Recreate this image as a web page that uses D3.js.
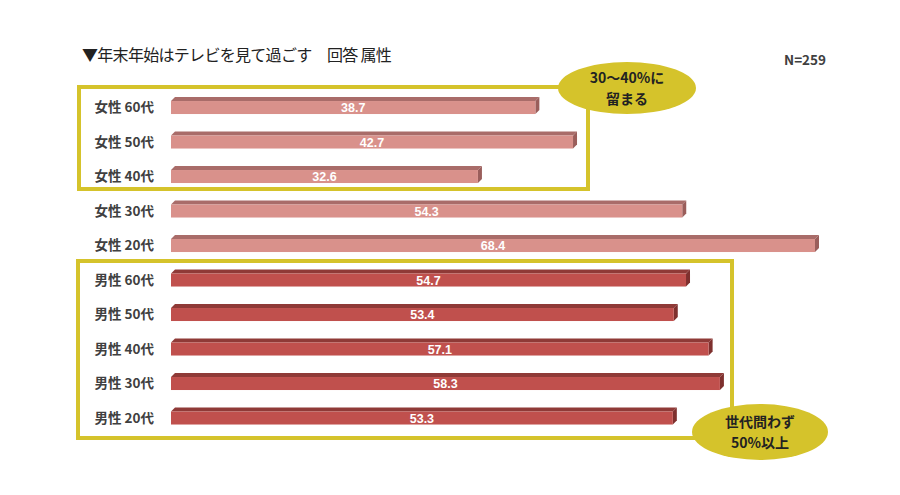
<!DOCTYPE html>
<html><head><meta charset="utf-8">
<script src="https://cdn.jsdelivr.net/npm/d3@7"></script>
<style>
html,body{margin:0;padding:0;background:#fff;}
svg{display:block;}
text{font-family:"Noto Sans CJK JP","Noto Sans",sans-serif;}
</style></head>
<body>
<script>
const categories = ["女性 60代","女性 50代","女性 40代","女性 30代","女性 20代","男性 60代","男性 50代","男性 40代","男性 30代","男性 20代"];
const groups = ["f","f","f","f","f","m","m","m","m","m"];
const values = [38.7,42.7,32.6,54.3,68.4,54.7,53.4,57.1,58.3,53.3];
const title = "▼年末年始はテレビを見て過ごす\u3000回答 属性";
const nLabel = "N=259";
const callout1 = ["30～40%に","留まる"];
const callout2 = ["世代問わず","50%以上"];

const W = 900, H = 495;
const svg = d3.select("body").append("svg").attr("width", W).attr("height", H);

const x = d3.scaleLinear().domain([0, 68.4]).range([171, 815]);
const y = d3.scaleBand().domain(categories).range([88.4, 433.4]).paddingInner(0.5).paddingOuter(0.25);
const colors = {
  f: {front:"#d9918b", top:"#a96c69", side:"#9a5e5b"},
  m: {front:"#c0504d", top:"#8f3a37", side:"#7e302e"}
};
const depth = 4, faceH = 13;
const yellow = "#d5c32b";

// title
svg.append("text").attr("x", 82).attr("y", 61).attr("font-size", 16).attr("fill", "#222")
  .attr("letter-spacing", "-0.7").text(title);
svg.append("text").attr("x", 826).attr("y", 65).attr("text-anchor","end").attr("font-size", 13.5)
  .attr("font-weight","bold").attr("fill","#404040").text(nLabel);

// boxes
svg.append("rect").attr("x", 79).attr("y", 87).attr("width", 509).attr("height", 102)
  .attr("fill","none").attr("stroke", yellow).attr("stroke-width", 4);
svg.append("rect").attr("x", 78).attr("y", 261).attr("width", 654).attr("height", 177)
  .attr("fill","none").attr("stroke", yellow).attr("stroke-width", 4);

// bars
const rows = categories.map((c,i)=>({c, g:groups[i], v:values[i]}));
const bar = svg.selectAll("g.bar").data(rows).join("g").attr("class","bar");
bar.append("polygon").attr("fill", d=>colors[d.g].top).attr("points", d=>{
  const b = y(d.c), x0 = x(0), x1 = x(d.v);
  return [[x0,b+depth],[x0+depth,b],[x1+depth,b],[x1,b+depth]].join(" ");
});
bar.append("polygon").attr("fill", d=>colors[d.g].side).attr("points", d=>{
  const b = y(d.c), x1 = x(d.v);
  return [[x1,b+depth],[x1+depth,b],[x1+depth,b+faceH],[x1,b+depth+faceH]].join(" ");
});
bar.append("rect").attr("fill", d=>colors[d.g].front)
  .attr("x", x(0)).attr("y", d=>y(d.c)+depth).attr("width", d=>x(d.v)-x(0)).attr("height", faceH);
bar.append("text").attr("x", d=>(x(0)+x(d.v))/2).attr("y", d=>y(d.c)+depth+faceH/2)
  .attr("dy","0.36em").attr("text-anchor","middle").attr("font-size",12.5).attr("font-weight","bold")
  .attr("fill","#fff").style("font-family","Arial, 'Liberation Sans', sans-serif")
  .text(d=>d.v.toFixed(1));
bar.append("text").attr("x", 154).attr("y", d=>y(d.c)+depth+faceH/2)
  .attr("dy","0.36em").attr("text-anchor","end").attr("font-size",13.5).attr("font-weight","bold")
  .attr("fill","#404040").text(d=>d.c);

// callouts
function callout(cx, cy, rx, ry, lines){
  svg.append("ellipse").attr("cx",cx).attr("cy",cy).attr("rx",rx).attr("ry",ry).attr("fill",yellow);
  lines.forEach((t,i)=>{
    svg.append("text").attr("x",cx).attr("y",cy-10+i*21).attr("dy","0.36em").attr("text-anchor","middle")
      .attr("font-size",14).attr("font-weight","bold").attr("fill","#222").text(t);
  });
}
callout(627, 88, 69, 26, callout1);
callout(760, 432, 68, 28, callout2);
</script>
</body></html>
